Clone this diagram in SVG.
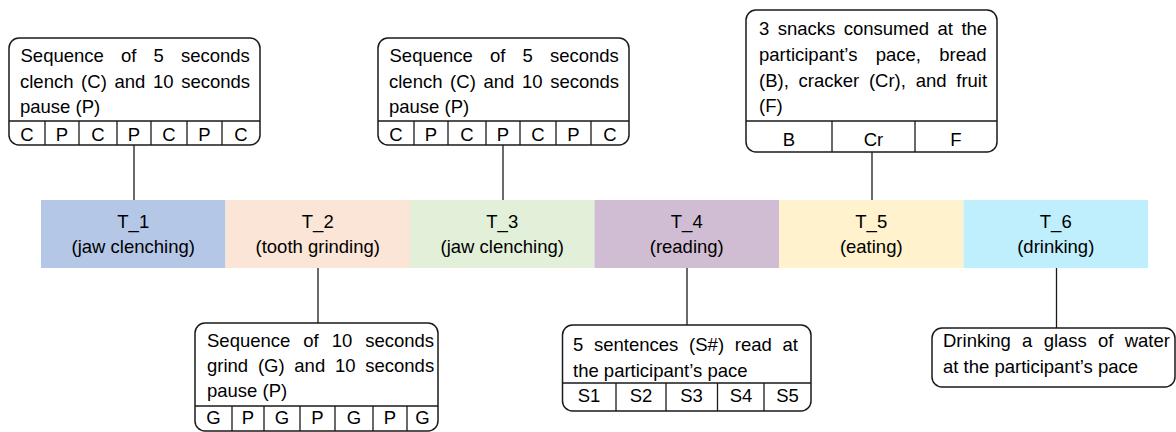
<svg xmlns="http://www.w3.org/2000/svg" width="1176" height="432" viewBox="0 0 1176 432">
  <style>
    .t { font-family: "Liberation Sans", Arial, sans-serif; font-size: 18.5px; fill: #000; }
    .c { text-anchor: middle; }
    .box { fill: #fff; stroke: #1a1a1a; stroke-width: 1.5; }
    .ln { fill: none; stroke: #1a1a1a; stroke-width: 1.3; }
  </style>
  <rect width="1176" height="432" fill="#fff"/>

  <!-- connectors between the timeline and the notes -->
  <g id="connectors" class="ln">
    <path d="M134 145V200"/>
    <path d="M503 145V200"/>
    <path d="M872 152V200"/>
    <path d="M318 268V323"/>
    <path d="M687 268V325"/>
    <path d="M1056.5 268V328"/>
  </g>

  <!-- timeline segments -->
  <g id="T_1">
    <rect x="41" y="200" width="184.5" height="68" fill="#B4C7E7"/>
    <text class="t c" x="133.25" y="228">T_1</text>
    <text class="t c" x="133.25" y="253">(jaw clenching)</text>
  </g>
  <g id="T_2">
    <rect x="225.5" y="200" width="184.5" height="68" fill="#FBE5D6"/>
    <text class="t c" x="317.75" y="228">T_2</text>
    <text class="t c" x="317.75" y="253">(tooth grinding)</text>
  </g>
  <g id="T_3">
    <rect x="410" y="200" width="184.5" height="68" fill="#E2F0D9"/>
    <text class="t c" x="502.25" y="228">T_3</text>
    <text class="t c" x="502.25" y="253">(jaw clenching)</text>
  </g>
  <g id="T_4">
    <rect x="594.5" y="200" width="184.5" height="68" fill="#D0BDD4"/>
    <text class="t c" x="686.75" y="228">T_4</text>
    <text class="t c" x="686.75" y="253">(reading)</text>
  </g>
  <g id="T_5">
    <rect x="779" y="200" width="184.5" height="68" fill="#FFF2CC"/>
    <text class="t c" x="871.25" y="228">T_5</text>
    <text class="t c" x="871.25" y="253">(eating)</text>
  </g>
  <g id="T_6">
    <rect x="963.5" y="200" width="184.5" height="68" fill="#BFEEFC"/>
    <text class="t c" x="1055.75" y="228">T_6</text>
    <text class="t c" x="1055.75" y="253">(drinking)</text>
  </g>

  <!-- clenching note, first block -->
  <g id="note-T_1">
    <rect class="box" x="9" y="38" width="251" height="107" rx="10"/>
    <path class="ln" d="M9 121H260M45 121V145M79 121V145M117 121V145M151 121V145M187 121V145M222 121V145"/>
    <text class="t" x="20.5" y="62" word-spacing="12">Sequence of 5 seconds</text>
    <text class="t" x="20" y="87.5" word-spacing="2.5">clench (C) and 10 seconds</text>
    <text class="t" x="20" y="113">pause (P)</text>
    <text class="t c" x="27" y="141">C</text>
    <text class="t c" x="62" y="141">P</text>
    <text class="t c" x="98" y="141">C</text>
    <text class="t c" x="134" y="141">P</text>
    <text class="t c" x="169" y="141">C</text>
    <text class="t c" x="204.5" y="141">P</text>
    <text class="t c" x="241" y="141">C</text>
  </g>

  <!-- clenching note, second block -->
  <g id="note-T_3" transform="translate(369 0)">
    <rect class="box" x="9" y="38" width="251" height="107" rx="10"/>
    <path class="ln" d="M9 121H260M45 121V145M79 121V145M117 121V145M151 121V145M187 121V145M222 121V145"/>
    <text class="t" x="20.5" y="62" word-spacing="12">Sequence of 5 seconds</text>
    <text class="t" x="20" y="87.5" word-spacing="2.5">clench (C) and 10 seconds</text>
    <text class="t" x="20" y="113">pause (P)</text>
    <text class="t c" x="27" y="141">C</text>
    <text class="t c" x="62" y="141">P</text>
    <text class="t c" x="98" y="141">C</text>
    <text class="t c" x="134" y="141">P</text>
    <text class="t c" x="169" y="141">C</text>
    <text class="t c" x="204.5" y="141">P</text>
    <text class="t c" x="241" y="141">C</text>
  </g>

  <!-- eating note -->
  <g id="note-T_5">
    <rect class="box" x="746" y="10" width="251" height="142" rx="10"/>
    <path class="ln" d="M746 121H997M832 121V152M915 121V152"/>
    <text class="t" x="759" y="35" word-spacing="3.3">3 snacks consumed at the</text>
    <text class="t" x="759" y="61" word-spacing="13.2">participant’s pace, bread</text>
    <text class="t" x="759" y="87" word-spacing="4.6">(B), cracker (Cr), and fruit</text>
    <text class="t" x="759" y="112">(F)</text>
    <text class="t c" x="789" y="146">B</text>
    <text class="t c" x="873.5" y="146">Cr</text>
    <text class="t c" x="956" y="146">F</text>
  </g>

  <!-- grinding note -->
  <g id="note-T_2">
    <rect class="box" x="195" y="323" width="243" height="108" rx="10"/>
    <path class="ln" d="M195 406H438M232 406V431M264 406V431M300 406V431M335 406V431M373 406V431M407 406V431"/>
    <text class="t" x="207" y="347" word-spacing="7.8">Sequence of 10 seconds</text>
    <text class="t" x="207" y="372" word-spacing="4.6">grind (G) and 10 seconds</text>
    <text class="t" x="207" y="397">pause (P)</text>
    <text class="t c" x="213.5" y="424">G</text>
    <text class="t c" x="248" y="424">P</text>
    <text class="t c" x="282" y="424">G</text>
    <text class="t c" x="317.5" y="424">P</text>
    <text class="t c" x="354" y="424">G</text>
    <text class="t c" x="390" y="424">P</text>
    <text class="t c" x="422.5" y="424">G</text>
  </g>

  <!-- reading note -->
  <g id="note-T_4">
    <rect class="box" x="562.5" y="325" width="248.5" height="86" rx="10"/>
    <path class="ln" d="M562.5 383H811M616 383V411M666 383V411M717.5 383V411M764 383V411"/>
    <text class="t" x="573" y="351" word-spacing="5.6">5 sentences (S#) read at</text>
    <text class="t" x="573" y="377">the participant’s pace</text>
    <text class="t c" x="589" y="402">S1</text>
    <text class="t c" x="641" y="402">S2</text>
    <text class="t c" x="691.5" y="402">S3</text>
    <text class="t c" x="741" y="402">S4</text>
    <text class="t c" x="787.5" y="402">S5</text>
  </g>

  <!-- drinking note -->
  <g id="note-T_6">
    <rect class="box" x="932" y="328" width="243" height="59" rx="10"/>
    <text class="t" x="943" y="347" word-spacing="6.1">Drinking a glass of water</text>
    <text class="t" x="943" y="373">at the participant’s pace</text>
  </g>
</svg>
